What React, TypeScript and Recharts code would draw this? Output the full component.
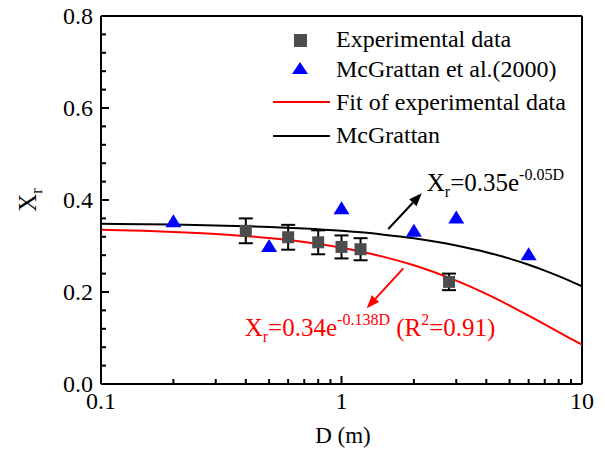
import { ComposedChart, XAxis, YAxis, Line, Scatter, ErrorBar, ReferenceLine } from 'recharts';

// experimental points (D in m, radiative fraction, +/- error)
const expD = [0.4, 0.6, 0.8, 1.0, 1.2, 2.8];
const expXr = [0.333, 0.319, 0.308, 0.298, 0.293, 0.222];
const expErr = [0.027, 0.027, 0.026, 0.025, 0.024, 0.018];

// McGrattan et al. (2000)
const mcgD = [0.2, 0.5, 1, 2, 3, 6];
const mcgXr = [0.354, 0.3, 0.382, 0.333, 0.362, 0.282];

// curves
const curveD = [0.1, 0.15, 0.2, 0.3, 0.5, 0.7, 1, 1.5, 2, 3, 4, 5, 6, 7, 8, 9, 10];
const fitXr = [0.3353, 0.333, 0.3307, 0.3262, 0.3173, 0.3087, 0.2962, 0.2764, 0.258, 0.2247, 0.1958, 0.1705, 0.1486, 0.1294, 0.1127, 0.0982, 0.0855];
const mcgLineXr = [0.3483, 0.3474, 0.3465, 0.3448, 0.3414, 0.338, 0.3329, 0.3247, 0.3167, 0.3012, 0.2866, 0.2726, 0.2593, 0.2466, 0.2346, 0.2232, 0.2123];

const xTicks = [0.1, 0.2, 0.3, 0.4, 0.5, 0.6, 0.7, 0.8, 0.9, 1, 2, 3, 4, 5, 6, 7, 8, 9, 10];
const xLabels = [0.1, 1, 10];
const yTicks = [0, 0.04, 0.08, 0.12, 0.16, 0.2, 0.24, 0.28, 0.32, 0.36, 0.4, 0.44, 0.48, 0.52, 0.56, 0.6, 0.64, 0.68, 0.72, 0.76, 0.8];

const expData = expD.map((d, i) => ({ d, v: expXr[i], err: expErr[i] }));
const mcgData = mcgD.map((d, i) => ({ d, v: mcgXr[i] }));
const fitData = curveD.map((d, i) => ({ d, v: fitXr[i] }));
const mcgLine = curveD.map((d, i) => ({ d, v: mcgLineXr[i] }));

const FONT = "'Liberation Serif', 'Times New Roman', serif";
const serif = { fontFamily: FONT };

const XTick = (props: any) => {
  const { x, y, payload } = props;
  const major = xLabels.includes(payload.value);
  return (
    <g>
      <line x1={x} y1={y} x2={x} y2={y - (major ? 8 : 5)} stroke="#000" strokeWidth={2} />
      {major && (
        <text x={x} y={y + 25} textAnchor="middle" style={serif} fontSize={24} fill="#000">
          {payload.value}
        </text>
      )}
    </g>
  );
};

const YTick = (props: any) => {
  const { x, y, payload } = props;
  const v = payload.value;
  const major = Math.abs(v * 5 - Math.round(v * 5)) < 1e-6;
  return (
    <g>
      <line x1={x} y1={y} x2={x + (major ? 8 : 5)} y2={y} stroke="#000" strokeWidth={2} />
      {major && (
        <text x={x - 8} y={y + 8} textAnchor="end" style={serif} fontSize={24} fill="#000">
          {v.toFixed(1)}
        </text>
      )}
    </g>
  );
};

const Square = (props: any) => {
  const { cx, cy } = props;
  return <rect x={cx - 6} y={cy - 6} width={12} height={12} fill="#4d4d4d" />;
};

const Triangle = (props: any) => {
  const { cx, cy } = props;
  return <polygon points={`${cx - 8},${cy + 6} ${cx + 8},${cy + 6} ${cx},${cy - 7}`} fill="#0000ff" />;
};

const arrow = (color: string, label: 'black' | 'red') => (props: any) => {
  const { x1, y1, x2, y2 } = props;
  const ang = Math.atan2(y2 - y1, x2 - x1);
  const L = 13;
  const W = 5;
  const bx = x2 - L * Math.cos(ang);
  const by = y2 - L * Math.sin(ang);
  const px = -Math.sin(ang) * W;
  const py = Math.cos(ang) * W;
  return (
    <g>
      <line x1={x1} y1={y1} x2={bx} y2={by} stroke={color} strokeWidth={2} />
      <polygon points={`${x2},${y2} ${bx + px},${by + py} ${bx - px},${by - py}`} fill={color} />
      {label === 'black' ? (
        <text x={x2 + 5} y={y2 - 2} style={serif} fontSize={25} fill="#000">
          X<tspan fontSize={16} dy={6}>r</tspan>
          <tspan dy={-6}>=0.35e</tspan>
          <tspan fontSize={16} dy={-11}>-0.05D</tspan>
        </text>
      ) : (
        <text x={x2 - 122} y={y2 + 28} style={serif} fontSize={25} fill="#ff0000">
          X<tspan fontSize={16} dy={6}>r</tspan>
          <tspan dy={-6}>=0.34e</tspan>
          <tspan fontSize={16} dy={-11}>-0.138D</tspan>
          <tspan dy={11}> (R</tspan>
          <tspan fontSize={16} dy={-11}>2</tspan>
          <tspan dy={11}>=0.91)</tspan>
        </text>
      )}
    </g>
  );
};

const YTitle = () => (
  <text transform="translate(36,200) rotate(-90)" textAnchor="middle" style={serif} fontSize={25} fill="#000">
    X<tspan fontSize={16} dy={6}>r</tspan>
  </text>
);

const XTitle = () => (
  <text x={343} y={443} textAnchor="middle" style={serif} fontSize={23} fill="#000">
    D (m)
  </text>
);

export default function App() {
  return (
    <div style={{ position: 'absolute', left: 0, top: 0, width: 605, height: 456, background: '#fff', fontFamily: FONT }}>
      <ComposedChart width={605} height={456} margin={{ top: 16, right: 23, bottom: 0, left: 0 }} style={serif}>
        <XAxis
          dataKey="d"
          type="number"
          scale="log"
          domain={[0.1, 10]}
          ticks={xTicks}
          interval={0}
          allowDataOverflow
          height={72}
          tickSize={0}
          tickMargin={0}
          tickLine={false}
          tick={<XTick />}
          axisLine={{ stroke: '#000', strokeWidth: 2 }}
          label={<XTitle />}
        />
        <YAxis
          dataKey="v"
          type="number"
          domain={[0, 0.8]}
          ticks={yTicks}
          interval={0}
          width={101}
          tickSize={0}
          tickMargin={0}
          tickLine={false}
          tick={<YTick />}
          axisLine={{ stroke: '#000', strokeWidth: 2 }}
          label={<YTitle />}
        />
        <ReferenceLine y={0.8} stroke="#000" strokeWidth={2} />
        <ReferenceLine x={10} stroke="#000" strokeWidth={2} />
        <Line data={mcgLine} dataKey="v" type="monotone" stroke="#000" strokeWidth={2} dot={false} isAnimationActive={false} />
        <Line data={fitData} dataKey="v" type="monotone" stroke="#ff0000" strokeWidth={2} dot={false} isAnimationActive={false} />
        <Scatter data={mcgData} dataKey="v" shape={<Triangle />} isAnimationActive={false} />
        <Scatter data={expData} dataKey="v" shape={<Square />} isAnimationActive={false}>
          <ErrorBar dataKey="err" direction="y" width={7} stroke="#000" strokeWidth={2} />
        </Scatter>
        <ReferenceLine segment={[{ x: 1.565, y: 0.337 }, { x: 2.156, y: 0.4146 }]} shape={arrow('#000', 'black')} />
        <ReferenceLine segment={[{ x: 1.807, y: 0.2515 }, { x: 1.273, y: 0.1646 }]} shape={arrow('#ff0000', 'red')} />
      </ComposedChart>
      <svg width={605} height={456} style={{ position: 'absolute', left: 0, top: 0, pointerEvents: 'none', fontFamily: FONT }}>
        <g fontSize={24} fill="#000">
          <rect x={294} y={34} width={13} height={13} fill="#4d4d4d" />
          <text x={336} y={47} style={serif}>Experimental data</text>
          <polygon points="292,74 308,74 300,62" fill="#0000ff" />
          <text x={336} y={77} style={serif}>McGrattan et al.(2000)</text>
          <line x1={273} y1={102} x2={330} y2={102} stroke="#ff0000" strokeWidth={2} />
          <text x={336} y={110} style={serif}>Fit of experimental data</text>
          <line x1={273} y1={136} x2={330} y2={136} stroke="#000" strokeWidth={2} />
          <text x={336} y={143} style={serif}>McGrattan</text>
        </g>
      </svg>
    </div>
  );
}
